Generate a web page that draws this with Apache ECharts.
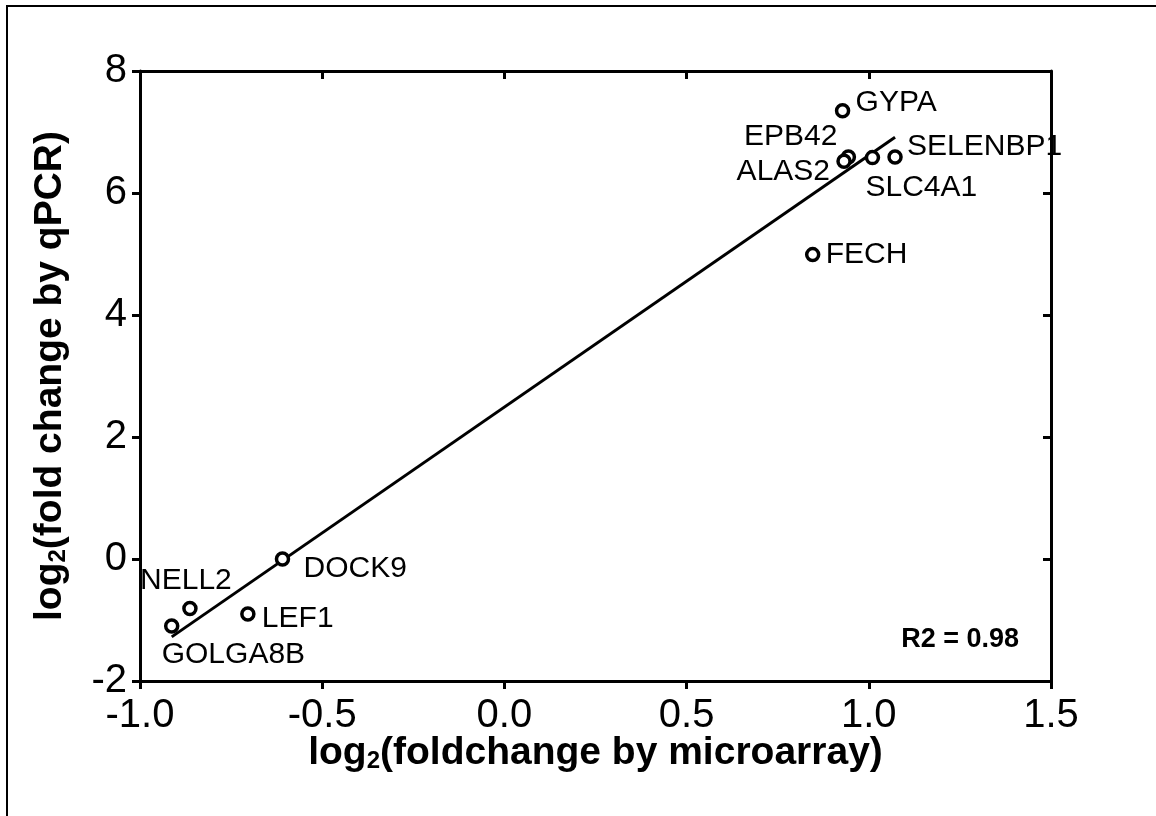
<!DOCTYPE html>
<html lang="en">
<head>
  <meta charset="UTF-8">
  <title>qPCR vs microarray</title>
  <style>
    html, body { margin: 0; padding: 0; background: #fff; }
    #main { width: 1156px; height: 816px; }
  </style>
</head>
<body>
<div id="main"></div>
<script src="https://cdn.jsdelivr.net/npm/echarts@6/dist/echarts.min.js"></script>
<script>
  // genes and their log2 fold changes
  var genes = ['GYPA', 'EPB42', 'ALAS2', 'SLC4A1', 'SELENBP1', 'FECH', 'DOCK9', 'NELL2', 'GOLGA8B', 'LEF1'];
  var microarray = [0.928, 0.944, 0.932, 1.010, 1.072, 0.846, -0.609, -0.863, -0.913, -0.704];
  var qpcr = [7.35, 6.59, 6.52, 6.58, 6.59, 4.99, 0.00, -0.81, -1.10, -0.90];
  var xTicks = [-1.0, -0.5, 0.0, 0.5, 1.0, 1.5];
  var yTicks = [-2, 0, 2, 4, 6, 8];
  var r2Text = 'R2 = 0.98';

  // where each gene's name sits next to its circle
  var labelPos = {
    GYPA:     { align: 'left',   offset: [13, -8] },
    EPB42:    { align: 'right',  offset: [-11, -20] },
    ALAS2:    { align: 'right',  offset: [-14, 10] },
    SLC4A1:   { align: 'left',   offset: [-7, 30] },
    SELENBP1: { align: 'left',   offset: [12, -10] },
    FECH:     { align: 'left',   offset: [13, 0] },
    DOCK9:    { align: 'left',   offset: [21, 10] },
    NELL2:    { align: 'center', offset: [-4, -28] },
    GOLGA8B:  { align: 'left',   offset: [-10, 29] },
    LEF1:     { align: 'left',   offset: [14, 5] }
  };

  // least squares fit, drawn over the range of x
  var n = microarray.length, mx = 0, my = 0;
  for (var i = 0; i < n; i++) { mx += microarray[i]; my += qpcr[i]; }
  mx /= n; my /= n;
  var sxy = 0, sxx = 0;
  for (var i = 0; i < n; i++) {
    sxy += (microarray[i] - mx) * (qpcr[i] - my);
    sxx += (microarray[i] - mx) * (microarray[i] - mx);
  }
  var slope = sxy / sxx, icpt = my - slope * mx;
  var xmin = Math.min.apply(null, microarray), xmax = Math.max.apply(null, microarray);
  var fitLine = [[xmin, icpt + slope * xmin], [xmax, icpt + slope * xmax]];

  var FONT = '"Liberation Sans", Arial, sans-serif';

  var points = genes.map(function (g, i) {
    var p = labelPos[g];
    return {
      name: g,
      value: [microarray[i], qpcr[i]],
      label: { position: 'inside', align: p.align, verticalAlign: 'middle', offset: p.offset,
        color: '#000', opacity: 1, textBorderWidth: 0, fontSize: 30, fontFamily: FONT }
    };
  });

  var axisLine = { show: true, onZero: false, lineStyle: { color: '#000', width: 3 } };
  var titleRich = {
    b: { fontSize: 39, fontWeight: 'bold', color: '#000', fontFamily: FONT },
    s: { fontSize: 24, fontWeight: 'bold', color: '#000', fontFamily: FONT, verticalAlign: 'bottom', padding: [16, 0, 0, 0] }
  };

  var chart = echarts.init(document.getElementById('main'));
  var option = {
    backgroundColor: '#fff',
    animation: false,
    textStyle: { fontFamily: FONT },
    grid: { left: 140, right: 105, top: 71, bottom: 135, containLabel: false, outerBoundsMode: 'none' },
    xAxis: [{
      type: 'value', min: xTicks[0], max: xTicks[xTicks.length - 1], interval: 0.5,
      position: 'bottom',
      axisLine: axisLine,
      axisTick: { show: true, inside: false, length: 8, lineStyle: { color: '#000', width: 3 } },
      axisLabel: { color: '#000', fontSize: 40, fontFamily: FONT, margin: 15,
        formatter: function (v) { return v.toFixed(1); } },
      splitLine: { show: false },
      name: '{b|log}{s|2}{b|(foldchange by microarray)}',
      nameLocation: 'middle', nameGap: 52, nameMoveOverlap: false,
      nameTextStyle: { rich: titleRich }
    }, {
      type: 'value', min: xTicks[0], max: xTicks[xTicks.length - 1], interval: 0.5,
      position: 'top',
      axisLine: axisLine,
      axisTick: { show: true, inside: true, length: 8, lineStyle: { color: '#000', width: 3 } },
      axisLabel: { show: false },
      splitLine: { show: false }
    }],
    yAxis: [{
      type: 'value', min: yTicks[0], max: yTicks[yTicks.length - 1], interval: 2,
      position: 'left',
      axisLine: axisLine,
      axisTick: { show: true, inside: false, length: 8, lineStyle: { color: '#000', width: 3 } },
      axisLabel: { color: '#000', fontSize: 40, fontFamily: FONT, margin: 13 },
      splitLine: { show: false },
      name: '{b|log}{s|2}{b|(fold change by qPCR)}',
      nameLocation: 'middle', nameGap: 70, nameRotate: 90, nameMoveOverlap: false,
      nameTextStyle: { rich: titleRich }
    }, {
      type: 'value', min: yTicks[0], max: yTicks[yTicks.length - 1], interval: 2,
      position: 'right',
      axisLine: axisLine,
      axisTick: { show: true, inside: true, length: 8, lineStyle: { color: '#000', width: 3 } },
      axisLabel: { show: false },
      splitLine: { show: false }
    }],
    graphic: [
      { type: 'rect', silent: true, shape: { x: 7, y: 6, width: 1200, height: 900 },
        style: { fill: 'none', stroke: '#000', lineWidth: 2 } },
      { type: 'text', silent: true, right: 137, top: 626,
        style: { text: r2Text, fill: '#000', font: 'bold 27px ' + FONT } }
    ],
    series: [{
      type: 'line',
      data: fitLine,
      symbol: 'none',
      lineStyle: { color: '#000', width: 3 },
      z: 2
    }, {
      type: 'scatter',
      data: points,
      symbol: 'circle',
      symbolSize: 12,
      itemStyle: { color: '#fff', borderColor: '#000', borderWidth: 3.5, opacity: 1 },
      label: { show: true, formatter: '{b}', color: '#000', fontSize: 30, fontFamily: FONT },
      z: 3
    }]
  };
  chart.setOption(option);
</script>
</body>
</html>
